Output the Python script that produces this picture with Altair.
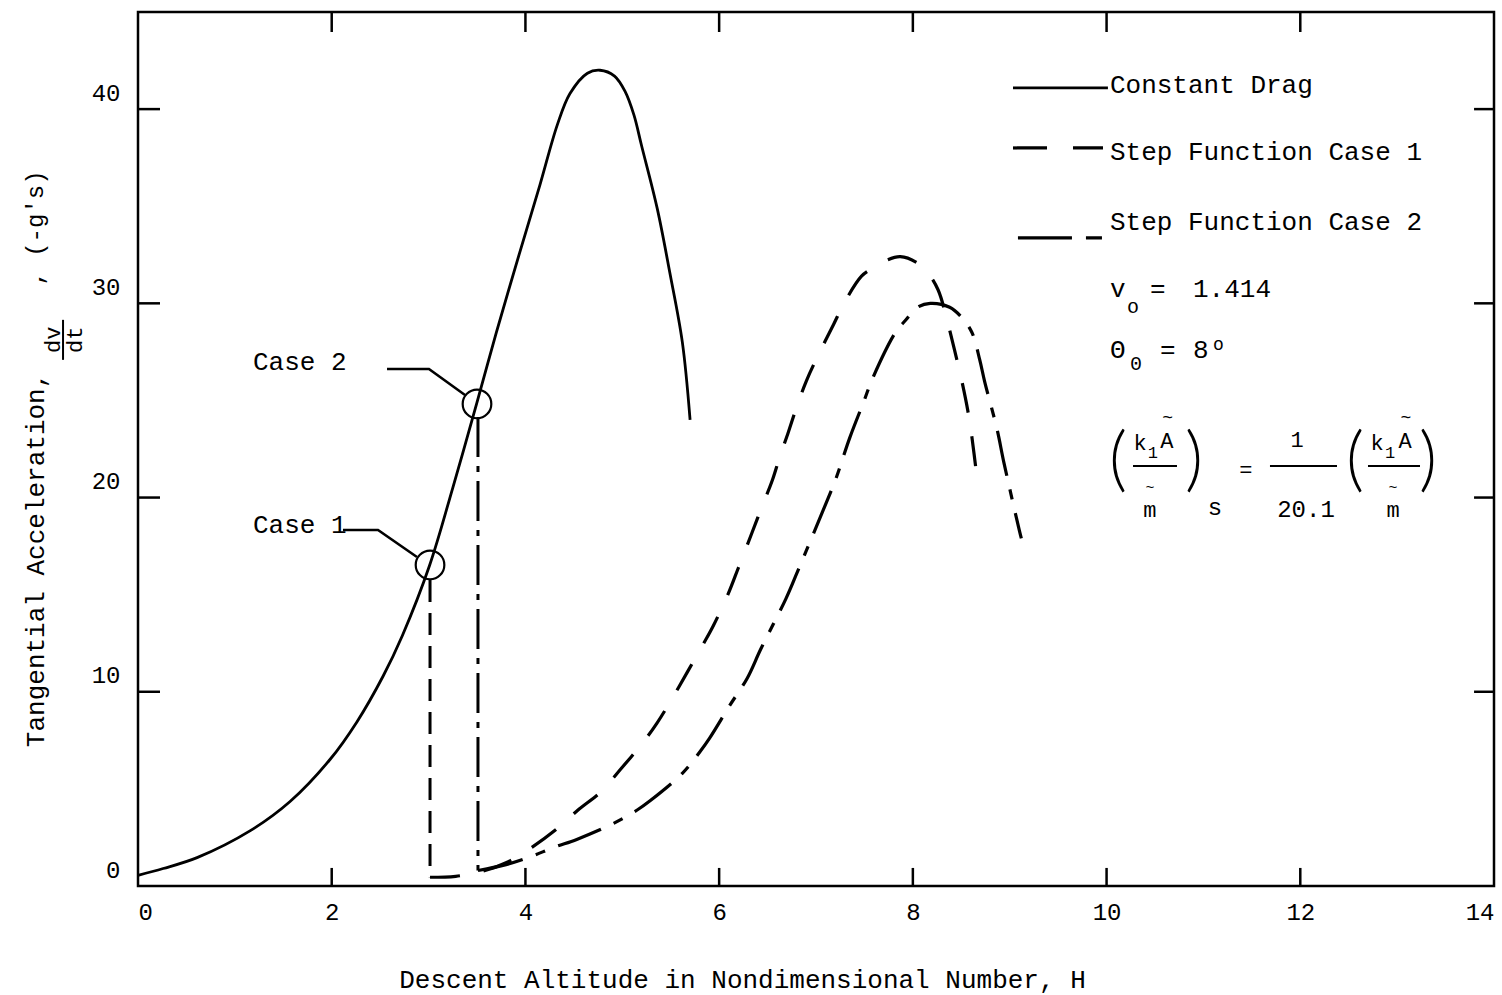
import altair as alt
import pandas as pd

# ---------------- data ----------------
# Constant drag (solid)
cd_h = [0.0, 0.26, 0.61, 1.16, 1.57, 1.98, 2.26, 2.53, 2.73, 3.01, 3.25, 3.50, 3.70, 3.94, 4.15,
        4.33, 4.46, 4.64, 4.77, 4.92, 5.03, 5.12, 5.20, 5.36, 5.49, 5.62, 5.70]
cd_v = [0.55, 0.90, 1.46, 2.85, 4.35, 6.5, 8.45, 10.8, 12.9, 16.5, 20.5, 24.9, 28.5, 32.6, 36.1,
        39.2, 40.8, 41.85, 42.0, 41.7, 40.9, 39.7, 38.1, 34.9, 31.6, 28.0, 24.0]

# Step function case 1 (long dashes)
c1_h = [3.015, 3.28, 3.55, 3.80, 4.07, 4.34, 4.54, 4.79, 4.98, 5.20, 5.36, 5.52, 5.67, 5.83, 5.94,
        6.09, 6.20, 6.34, 6.44, 6.55, 6.62, 6.71, 6.81, 6.90, 7.02, 7.18, 7.30, 7.47, 7.58, 7.72,
        7.87, 8.04, 8.15, 8.26, 8.35, 8.43, 8.51, 8.57, 8.61, 8.66]
c1_v = [0.45, 0.5, 0.75, 1.2, 2.0, 3.0, 3.9, 4.9, 6.0, 7.3, 8.4, 9.7, 11.0, 12.4, 13.4,
        15.0, 16.4, 18.2, 19.5, 20.9, 22.0, 23.3, 24.8, 26.0, 27.3, 28.9, 30.1, 31.4, 31.8, 32.2,
        32.4, 32.1, 31.6, 30.7, 29.2, 27.6, 25.9, 24.4, 23.1, 21.1]

# Step function case 2 (dash - short dash)
c2_h = [3.51, 3.80, 4.05, 4.30, 4.53, 4.90, 5.15, 5.29, 5.62, 5.80, 5.90, 6.11, 6.29, 6.43, 6.69,
        6.81, 7.07, 7.20, 7.35, 7.49, 7.59, 7.82, 7.92, 8.05, 8.18, 8.38, 8.50, 8.61, 8.69, 8.74,
        8.87, 8.94, 9.10, 9.12]
c2_v = [0.8, 1.1, 1.5, 2.0, 2.4, 3.2, 3.9, 4.4, 5.8, 6.9, 7.6, 9.3, 10.7, 12.2, 14.8,
        16.2, 19.3, 20.9, 23.1, 24.9, 26.2, 28.5, 29.1, 29.8, 30.0, 29.8, 29.3, 28.5, 27.1, 26.0,
        23.5, 21.8, 18.3, 17.9]

# Step drops
drop1_h = [3.015, 3.015]
drop1_v = [15.76, 0.45]
drop2_h = [3.51, 3.51]
drop2_v = [24.15, 0.8]

# Switch points (circles)
switch_h = [3.015, 3.50]
switch_v = [16.53, 24.82]

x_ticks = [0, 2, 4, 6, 8, 10, 12, 14]
y_ticks = [0, 10, 20, 30, 40]
inner_x_ticks = [2, 4, 6, 8, 10, 12]
inner_y_ticks = [10, 20, 30, 40]

FONT = "Liberation Mono"
INK = "black"

XS = alt.Scale(domain=[0, 14], nice=False, zero=False)
YS = alt.Scale(domain=[0, 45], nice=False, zero=False)

x_axis = alt.Axis(values=x_ticks, title=None, domain=False, ticks=False, grid=False,
                  labelFont=FONT, labelFontSize=24, labelColor=INK, labelPadding=14,
                  labelFlush=True, labelAngle=0)
y_axis = alt.Axis(values=y_ticks, title=None, domain=False, ticks=False, grid=False,
                  labelFont=FONT, labelFontSize=24, labelColor=INK, labelPadding=18,
                  labelOffset=-16)


def ex(f="h"):
    return alt.X(f"{f}:Q", scale=XS, axis=x_axis)


def ey(f="v"):
    return alt.Y(f"{f}:Q", scale=YS, axis=y_axis)


def line_layer(hs, vs, dash=None, interp="catmull-rom", width=3):
    df = pd.DataFrame({"h": hs, "v": vs, "o": list(range(len(hs)))})
    kw = dict(color=INK, strokeWidth=width, interpolate=interp, strokeCap="butt")
    if dash is not None:
        kw["strokeDash"] = dash
    return alt.Chart(df).mark_line(**kw).encode(x=ex(), y=ey(), order="o:Q")


layers = []
layers.append(line_layer(cd_h, cd_v, width=2.8))
layers.append(line_layer(c1_h, c1_v, dash=[30, 24], width=3.2))
layers.append(line_layer(c2_h, c2_v, dash=[46, 14, 10, 14], width=3.2))
layers.append(line_layer(drop1_h, drop1_v, dash=[22, 11], interp="linear", width=3))
layers.append(line_layer(drop2_h, drop2_v, dash=[40, 9, 6, 9], interp="linear", width=3))

# circles at switching points
circ_df = pd.DataFrame({"h": switch_h, "v": switch_v})
layers.append(alt.Chart(circ_df).mark_point(shape="circle", filled=False, size=820,
                                             color=INK, strokeWidth=2.2, opacity=1)
              .encode(x=ex(), y=ey()))

# callout leader lines
call_df = pd.DataFrame({
    "h": [2.571, 3.004, 3.376, 2.116, 2.478, 2.880],
    "v": [26.62, 26.62, 25.28, 18.33, 18.33, 16.94],
    "g": ["c2", "c2", "c2", "c1", "c1", "c1"],
    "o": [0, 1, 2, 0, 1, 2],
})
layers.append(alt.Chart(call_df).mark_line(color=INK, strokeWidth=2.6)
              .encode(x=ex(), y=ey(), detail="g:N", order="o:Q"))

# inward tick marks
tk = []
for t in inner_x_ticks:
    tk.append((t, 0.0, t, 0.93))
    tk.append((t, 45.0, t, 43.97))
for t in inner_y_ticks:
    tk.append((0.0, t, 0.227, t))
    tk.append((14.0, t, 13.794, t))
tick_df = pd.DataFrame(tk, columns=["h", "v", "h2", "v2"])
layers.append(alt.Chart(tick_df).mark_rule(color=INK, strokeWidth=2.5)
              .encode(x=ex(), y=ey(), x2="h2:Q", y2="v2:Q"))


def rule(h1, h2, v1, v2, dash=None, width=3):
    df = pd.DataFrame({"h": [h1], "h2": [h2], "v": [v1], "v2": [v2]})
    kw = dict(color=INK, strokeWidth=width, strokeCap="butt")
    if dash is not None:
        kw["strokeDash"] = dash
    return alt.Chart(df).mark_rule(**kw).encode(x=ex(), y=ey(), x2="h2:Q", y2="v2:Q")


# legend samples
layers.append(rule(9.034, 10.014, 41.09, 41.09, width=2.8))
layers.append(rule(9.034, 9.963, 38.00, 38.00, dash=[34, 26], width=3.2))
layers.append(rule(9.085, 9.953, 33.37, 33.37, dash=[54, 14, 16, 14], width=3.2))

# fraction bars
layers.append(rule(10.273, 10.727, 21.63, 21.63, width=2))
layers.append(rule(11.687, 12.379, 21.63, 21.63, width=2))
layers.append(rule(12.699, 13.236, 21.63, 21.63, width=2))
layers.append(rule(-0.774, -0.774, 29.15, 27.09, width=2))


def txt(s, h, v, size, align="left", baseline="alphabetic", angle=0, font=FONT, weight="normal"):
    df = pd.DataFrame({"h": [h], "v": [v], "t": [s]})
    return alt.Chart(df).mark_text(align=align, baseline=baseline, angle=angle, font=font,
                                   fontSize=size, fontWeight=weight, color=INK
                                   ).encode(x=ex(), y=ey(), text="t:N")


notes = [
    # legend
    ("Constant Drag", 10.035, 40.83, 26, "left", "alphabetic"),
    ("Step Function Case 1", 10.035, 37.38, 26, "left", "alphabetic"),
    ("Step Function Case 2", 10.035, 33.78, 26, "left", "alphabetic"),
    ("v", 10.035, 30.33, 26, "left", "alphabetic"),
    ("o", 10.211, 29.51, 20, "left", "alphabetic"),
    ("=", 10.448, 30.33, 26, "left", "alphabetic"),
    ("1.414", 10.892, 30.33, 26, "left", "alphabetic"),
    ("\u0398", 10.035, 27.19, 26, "left", "alphabetic"),
    ("0", 10.242, 26.57, 20, "left", "alphabetic"),
    ("=", 10.551, 27.19, 26, "left", "alphabetic"),
    ("8", 10.892, 27.19, 26, "left", "alphabetic"),
    ("o", 11.098, 27.60, 18, "left", "alphabetic"),
    # formula
    ("k", 10.345, 22.45, 22, "center", "alphabetic"),
    ("1", 10.479, 22.04, 17, "center", "alphabetic"),
    ("A", 10.623, 22.55, 22, "center", "alphabetic"),
    ("~", 10.630, 24.10, 18, "center", "middle"),
    ("m", 10.448, 19.00, 22, "center", "alphabetic"),
    ("~", 10.448, 20.55, 15, "center", "middle"),
    ("s", 11.119, 19.10, 24, "center", "alphabetic"),
    ("=", 11.439, 21.42, 22, "center", "middle"),
    ("1", 11.966, 22.61, 22, "center", "alphabetic"),
    ("20.1", 12.059, 19.00, 24, "center", "alphabetic"),
    ("k", 12.792, 22.45, 22, "center", "alphabetic"),
    ("1", 12.926, 22.04, 17, "center", "alphabetic"),
    ("A", 13.081, 22.55, 22, "center", "alphabetic"),
    ("~", 13.090, 24.10, 18, "center", "middle"),
    ("m", 12.957, 19.00, 22, "center", "alphabetic"),
    ("~", 12.957, 20.55, 15, "center", "middle"),
    # case labels
    ("Case 2", 1.187, 26.57, 26, "left", "alphabetic"),
    ("Case 1", 1.187, 18.18, 26, "left", "alphabetic"),
    # x title
    ("Descent Altitude in Nondimensional Number, H", 6.241, -4.84, 26, "center", "middle"),
]
for s, h, v, size, al, bl in notes:
    layers.append(txt(s, h, v, size, al, bl))

# big parentheses of the formula
parens = [("(", 10.118), (")", 10.902), ("(", 12.564), (")", 13.318)]
for s, h in parens:
    layers.append(txt(s, h, 21.85, 70, "center", "middle", font="Lato", weight=300))

# y title pieces (rotated)
layers.append(txt("Tangential Acceleration,", -1.053, 16.79, 26, "center", "middle", angle=270))
layers.append(txt("dv", -0.878, 28.12, 22, "center", "middle", angle=270))
layers.append(txt("dt", -0.650, 28.12, 22, "center", "middle", angle=270))
layers.append(txt(", (-g's)", -1.053, 33.88, 24, "center", "middle", angle=270))

chart = alt.layer(*layers).properties(
    width=1356,
    height=874,
    autosize=alt.AutoSizeParams(type="none"),
    padding={"left": 138, "top": 12, "right": 8, "bottom": 109},
    background="white",
).configure_view(stroke=INK, strokeWidth=2.5)

chart.save("out.html", embed_options={"renderer": "svg", "actions": False})
